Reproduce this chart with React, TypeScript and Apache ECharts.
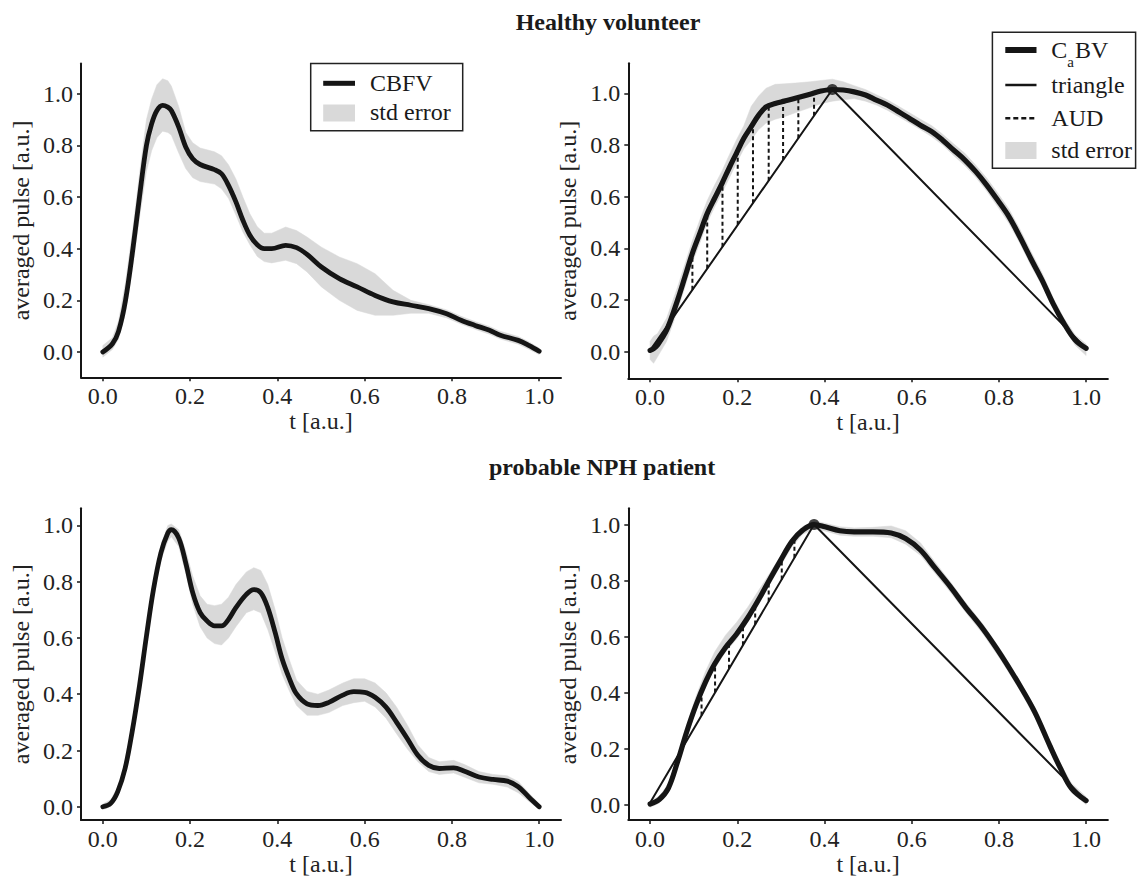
import React, { useEffect, useRef } from "react";
import * as echarts from "echarts";

// ---------- shared ticks ----------
const tickValues = [0, 0.2, 0.4, 0.6, 0.8, 1.0];

// ---------- Healthy volunteer: CBFV (top-left) ----------
const tlT = [0, 0.022, 0.036, 0.052, 0.069, 0.084, 0.1, 0.112, 0.124, 0.137, 0.149, 0.157, 0.174, 0.19, 0.206, 0.223, 0.256, 0.272, 0.288, 0.305, 0.321, 0.337, 0.354, 0.37, 0.387, 0.419, 0.444, 0.468, 0.501, 0.542, 0.583, 0.624, 0.665, 0.706, 0.747, 0.788, 0.821, 0.853, 0.886, 0.911, 0.952, 0.976, 1.0];
const tlMean = [0.0, 0.032, 0.08, 0.2, 0.4, 0.6, 0.8, 0.884, 0.935, 0.955, 0.948, 0.935, 0.871, 0.794, 0.748, 0.726, 0.706, 0.69, 0.645, 0.581, 0.51, 0.452, 0.415, 0.4, 0.4, 0.413, 0.404, 0.378, 0.329, 0.284, 0.252, 0.219, 0.194, 0.181, 0.168, 0.148, 0.123, 0.103, 0.084, 0.065, 0.045, 0.026, 0.003];
const tlLo = [-0.02, 0.01, 0.05, 0.15, 0.33, 0.52, 0.7, 0.78, 0.83, 0.855, 0.85, 0.84, 0.77, 0.71, 0.675, 0.66, 0.65, 0.632, 0.595, 0.53, 0.465, 0.415, 0.37, 0.35, 0.345, 0.355, 0.342, 0.31, 0.252, 0.2, 0.161, 0.142, 0.142, 0.15, 0.15, 0.132, 0.108, 0.088, 0.069, 0.05, 0.03, 0.011, -0.01];
const tlHi = [0.025, 0.055, 0.12, 0.27, 0.48, 0.69, 0.9, 0.98, 1.035, 1.058, 1.05, 1.03, 0.95, 0.85, 0.81, 0.79, 0.775, 0.76, 0.725, 0.67, 0.6, 0.535, 0.485, 0.46, 0.46, 0.484, 0.47, 0.445, 0.406, 0.368, 0.342, 0.303, 0.239, 0.2, 0.183, 0.163, 0.138, 0.118, 0.099, 0.08, 0.06, 0.04, 0.015];

// ---------- Healthy volunteer: CaBV (top-right) ----------
const trT = [0, 0.008, 0.017, 0.038, 0.063, 0.08, 0.097, 0.114, 0.131, 0.148, 0.165, 0.181, 0.198, 0.215, 0.232, 0.249, 0.266, 0.287, 0.308, 0.333, 0.367, 0.392, 0.418, 0.443, 0.468, 0.494, 0.519, 0.544, 0.57, 0.595, 0.62, 0.646, 0.671, 0.696, 0.722, 0.747, 0.772, 0.797, 0.823, 0.848, 0.873, 0.899, 0.924, 0.949, 0.975, 1.0];
const trMean = [0.005, 0.012, 0.026, 0.084, 0.2, 0.29, 0.381, 0.458, 0.535, 0.594, 0.652, 0.71, 0.768, 0.826, 0.871, 0.916, 0.948, 0.961, 0.97, 0.981, 0.997, 1.009, 1.015, 1.013, 1.006, 0.994, 0.974, 0.955, 0.929, 0.903, 0.877, 0.852, 0.819, 0.781, 0.742, 0.697, 0.645, 0.587, 0.523, 0.445, 0.361, 0.277, 0.187, 0.11, 0.045, 0.013];
const trLo = [-0.03, -0.045, -0.02, 0.04, 0.16, 0.25, 0.345, 0.42, 0.5, 0.56, 0.615, 0.67, 0.73, 0.785, 0.82, 0.86, 0.885, 0.9, 0.91, 0.925, 0.945, 0.96, 0.97, 0.975, 0.98, 0.97, 0.955, 0.935, 0.91, 0.885, 0.86, 0.832, 0.8, 0.76, 0.72, 0.675, 0.622, 0.562, 0.497, 0.42, 0.335, 0.255, 0.17, 0.095, 0.025, -0.015];
const trHi = [0.04, 0.06, 0.07, 0.13, 0.25, 0.34, 0.43, 0.51, 0.585, 0.645, 0.7, 0.76, 0.82, 0.875, 0.95, 0.99, 1.02, 1.035, 1.037, 1.04, 1.045, 1.05, 1.055, 1.045, 1.03, 1.015, 0.995, 0.975, 0.95, 0.925, 0.9, 0.875, 0.842, 0.805, 0.768, 0.722, 0.672, 0.615, 0.552, 0.475, 0.39, 0.305, 0.21, 0.13, 0.065, 0.03];
const trTriT = [0, 0.418, 1.0];
const trTriV = [0.005, 1.015, 0.013];
const trAudT = [0.097, 0.131, 0.166, 0.201, 0.236, 0.272, 0.305, 0.34, 0.376];
const trAudBottom = [0.24, 0.322, 0.406, 0.491, 0.575, 0.662, 0.742, 0.826, 0.913];
const trAudTop = [0.381, 0.535, 0.654, 0.776, 0.875, 0.952, 0.968, 0.983, 1.0];

// ---------- probable NPH patient: CBFV (bottom-left) ----------
const blT = [0, 0.018, 0.034, 0.051, 0.067, 0.084, 0.1, 0.116, 0.133, 0.149, 0.157, 0.174, 0.19, 0.206, 0.223, 0.239, 0.256, 0.272, 0.288, 0.305, 0.329, 0.346, 0.362, 0.378, 0.395, 0.411, 0.428, 0.444, 0.468, 0.493, 0.518, 0.55, 0.575, 0.6, 0.624, 0.649, 0.673, 0.698, 0.722, 0.747, 0.771, 0.804, 0.829, 0.862, 0.894, 0.927, 0.952, 0.976, 1.0];
const blMean = [0.0, 0.012, 0.053, 0.136, 0.265, 0.43, 0.607, 0.772, 0.902, 0.973, 0.985, 0.955, 0.867, 0.761, 0.69, 0.66, 0.643, 0.643, 0.666, 0.708, 0.755, 0.772, 0.761, 0.708, 0.619, 0.525, 0.454, 0.401, 0.366, 0.36, 0.371, 0.397, 0.409, 0.407, 0.389, 0.354, 0.301, 0.242, 0.183, 0.147, 0.136, 0.138, 0.126, 0.106, 0.097, 0.091, 0.071, 0.035, 0.0];
const blLo = [-0.01, 0.0, 0.04, 0.115, 0.24, 0.4, 0.575, 0.74, 0.875, 0.945, 0.96, 0.925, 0.83, 0.72, 0.64, 0.6, 0.58, 0.575, 0.6, 0.64, 0.69, 0.7, 0.69, 0.63, 0.55, 0.47, 0.41, 0.36, 0.325, 0.325, 0.335, 0.36, 0.37, 0.375, 0.355, 0.315, 0.26, 0.205, 0.16, 0.125, 0.115, 0.12, 0.105, 0.085, 0.08, 0.07, 0.05, 0.02, -0.01];
const blHi = [0.01, 0.025, 0.07, 0.16, 0.29, 0.46, 0.64, 0.8, 0.93, 1.0, 1.005, 0.985, 0.91, 0.82, 0.75, 0.72, 0.715, 0.72, 0.745, 0.79, 0.835, 0.85, 0.84, 0.79, 0.7, 0.6, 0.52, 0.45, 0.41, 0.4, 0.415, 0.44, 0.455, 0.455, 0.44, 0.405, 0.355, 0.29, 0.22, 0.175, 0.16, 0.165, 0.15, 0.125, 0.115, 0.11, 0.09, 0.05, 0.01];

// ---------- probable NPH patient: CaBV (bottom-right) ----------
const brT = [0, 0.021, 0.042, 0.063, 0.084, 0.105, 0.127, 0.148, 0.173, 0.198, 0.224, 0.249, 0.274, 0.3, 0.325, 0.35, 0.376, 0.401, 0.435, 0.468, 0.511, 0.553, 0.586, 0.62, 0.654, 0.688, 0.722, 0.764, 0.806, 0.848, 0.882, 0.916, 0.941, 0.966, 1.0];
const brMean = [0.002, 0.018, 0.059, 0.153, 0.26, 0.354, 0.437, 0.502, 0.561, 0.608, 0.667, 0.732, 0.803, 0.874, 0.939, 0.98, 1.0, 0.992, 0.978, 0.974, 0.974, 0.97, 0.95, 0.909, 0.844, 0.779, 0.708, 0.626, 0.531, 0.425, 0.331, 0.213, 0.13, 0.059, 0.014];
const brLo = [-0.01, 0.005, 0.045, 0.135, 0.24, 0.335, 0.42, 0.485, 0.545, 0.59, 0.65, 0.715, 0.785, 0.855, 0.92, 0.965, 0.985, 0.977, 0.962, 0.958, 0.958, 0.953, 0.93, 0.89, 0.825, 0.76, 0.69, 0.608, 0.513, 0.408, 0.313, 0.196, 0.113, 0.043, 0.0];
const brHi = [0.012, 0.03, 0.075, 0.17, 0.285, 0.385, 0.475, 0.545, 0.605, 0.65, 0.705, 0.765, 0.825, 0.89, 0.952, 0.993, 1.013, 1.005, 0.992, 0.988, 0.99, 0.995, 0.978, 0.935, 0.865, 0.797, 0.725, 0.643, 0.548, 0.442, 0.348, 0.23, 0.148, 0.077, 0.028];
const brTriT = [0, 0.376, 1.0];
const brTriV = [0.006, 1.0, 0.014];
const brAudT = [0.118, 0.149, 0.181, 0.213, 0.241, 0.272, 0.302, 0.331];
const brAudBottom = [0.318, 0.4, 0.485, 0.569, 0.643, 0.725, 0.804, 0.881];
const brAudTop = [0.41, 0.503, 0.572, 0.64, 0.71, 0.8, 0.88, 0.945];

const FONT = "'Liberation Serif', 'DejaVu Serif', serif";
const INK = "#151515";
const BAND = "#d9d9d9";

function pairs(t: number[], v: number[]) {
  return t.map((x, i) => [x, v[i]]);
}

function bandSeries(idx: number, t: number[], lo: number[], hi: number[]) {
  return {
    type: "custom",
    xAxisIndex: idx,
    yAxisIndex: idx,
    silent: true,
    z: 1,
    clip: false,
    data: [[t[0], lo[0]]],
    renderItem: (_p: any, api: any) => {
      const pts: number[][] = [];
      for (let i = 0; i < t.length; i++) pts.push(api.coord([t[i], hi[i]]));
      for (let i = t.length - 1; i >= 0; i--) pts.push(api.coord([t[i], lo[i]]));
      return { type: "polygon", shape: { points: pts }, style: { fill: BAND, stroke: BAND, lineWidth: 0.5 } };
    },
  };
}

function meanSeries(idx: number, t: number[], v: number[], width: number) {
  return {
    type: "line",
    xAxisIndex: idx,
    yAxisIndex: idx,
    data: pairs(t, v),
    symbol: "none",
    smooth: 0.35,
    z: 5,
    lineStyle: { color: INK, width, cap: "round", join: "round" },
  };
}

function triSeries(idx: number, t: number[], v: number[]) {
  return {
    type: "line",
    xAxisIndex: idx,
    yAxisIndex: idx,
    data: pairs(t, v),
    symbol: "none",
    z: 4,
    lineStyle: { color: INK, width: 2 },
  };
}

function peakSeries(idx: number, t: number, v: number) {
  return {
    type: "scatter",
    xAxisIndex: idx,
    yAxisIndex: idx,
    data: [[t, v]],
    symbol: "circle",
    symbolSize: 11,
    z: 6,
    itemStyle: { color: INK },
  };
}

function audSeries(idx: number, t: number[], b: number[], top: number[]) {
  return {
    type: "custom",
    xAxisIndex: idx,
    yAxisIndex: idx,
    silent: true,
    z: 3,
    data: t.map((x, i) => [x, b[i], top[i]]),
    encode: { x: 0, y: [1, 2] },
    renderItem: (_p: any, api: any) => {
      const p1 = api.coord([api.value(0), api.value(1)]);
      const p2 = api.coord([api.value(0), api.value(2)]);
      return {
        type: "line",
        shape: { x1: p1[0], y1: p1[1], x2: p2[0], y2: p2[1] },
        style: { stroke: INK, lineWidth: 2, lineDash: [4, 3] },
      };
    },
  };
}

function xAxis(idx: number) {
  return {
    type: "value",
    gridIndex: idx,
    min: -0.05,
    max: 1.05,
    name: "t [a.u.]",
    nameLocation: "middle",
    nameGap: 29,
    nameTextStyle: { fontFamily: FONT, fontSize: 24, color: "#222" },
    axisLine: { show: true, onZero: false, lineStyle: { color: INK, width: 2 } },
    axisTick: { show: true, length: 4, customValues: tickValues, lineStyle: { color: INK, width: 1.5 } },
    axisLabel: {
      customValues: tickValues,
      formatter: (v: number) => v.toFixed(1),
      fontFamily: FONT,
      fontSize: 24,
      color: "#222",
      margin: 7,
    },
    splitLine: { show: false },
  };
}

function yAxis(idx: number, min: number, max: number) {
  return {
    type: "value",
    gridIndex: idx,
    min,
    max,
    name: "averaged pulse [a.u.]",
    nameLocation: "middle",
    nameRotate: 90,
    nameGap: 48,
    nameTextStyle: { fontFamily: FONT, fontSize: 24, color: "#222" },
    axisLine: { show: true, onZero: false, lineStyle: { color: INK, width: 2 } },
    axisTick: { show: true, length: 4, customValues: tickValues, lineStyle: { color: INK, width: 1.5 } },
    axisLabel: {
      customValues: tickValues,
      formatter: (v: number) => v.toFixed(1),
      fontFamily: FONT,
      fontSize: 24,
      color: "#222",
      margin: 8,
    },
    splitLine: { show: false },
  };
}

function txt(x: number, y: number, text: string, size = 24, weight = "normal", align = "left") {
  return {
    type: "text",
    x,
    y,
    z: 100,
    style: {
      text,
      fill: "#1a1a1a",
      fontFamily: FONT,
      fontSize: size,
      fontWeight: weight,
      align,
      verticalAlign: "middle",
    },
  };
}

export default function App() {
  const ref = useRef<HTMLDivElement>(null);
  useEffect(() => {
    if (!ref.current) return;
    const chart = echarts.init(ref.current, null, { renderer: "svg" });
    const option: any = {
      animation: false,
      backgroundColor: "#ffffff",
      grid: [
        { left: 81, top: 63.5, width: 480, height: 313.8 },
        { left: 628.3, top: 63.3, width: 479.6, height: 315 },
        { left: 81, top: 508.3, width: 480, height: 313.4 },
        { left: 628.3, top: 508.3, width: 479.6, height: 314.4 },
      ],
      xAxis: [xAxis(0), xAxis(1), xAxis(2), xAxis(3)],
      yAxis: [
        yAxis(0, -0.098, 1.117),
        yAxis(1, -0.103, 1.1165),
        yAxis(2, -0.0474, 1.061),
        yAxis(3, -0.0556, 1.058),
      ],
      series: [
        bandSeries(0, tlT, tlLo, tlHi),
        meanSeries(0, tlT, tlMean, 4.8),
        bandSeries(1, trT, trLo, trHi),
        audSeries(1, trAudT, trAudBottom, trAudTop),
        triSeries(1, trTriT, trTriV),
        meanSeries(1, trT, trMean, 5.2),
        peakSeries(1, trTriT[1], trTriV[1]),
        bandSeries(2, blT, blLo, blHi),
        meanSeries(2, blT, blMean, 4.8),
        bandSeries(3, brT, brLo, brHi),
        audSeries(3, brAudT, brAudBottom, brAudTop),
        triSeries(3, brTriT, brTriV),
        meanSeries(3, brT, brMean, 5.2),
        peakSeries(3, brTriT[1], brTriV[1]),
      ],
      graphic: [
        txt(608, 22, "Healthy volunteer", 24, "bold", "center"),
        txt(602, 467, "probable NPH patient", 24, "bold", "center"),
        // top-left legend
        { type: "rect", z: 99, shape: { x: 310.7, y: 63.5, width: 152, height: 67.2 }, style: { fill: "#fff", stroke: "#222", lineWidth: 1.5 } },
        { type: "line", z: 100, shape: { x1: 323.2, y1: 83.3, x2: 355, y2: 83.3 }, style: { stroke: INK, lineWidth: 5 } },
        { type: "rect", z: 100, shape: { x: 323.2, y: 104.5, width: 31.8, height: 17 }, style: { fill: BAND } },
        txt(370, 83.3, "CBFV"),
        txt(370, 112, "std error"),
        // top-right legend
        { type: "rect", z: 99, shape: { x: 992.4, y: 32.3, width: 143.2, height: 136 }, style: { fill: "#fff", stroke: "#222", lineWidth: 1.5 } },
        { type: "line", z: 100, shape: { x1: 1005.3, y1: 50, x2: 1036.5, y2: 50 }, style: { stroke: INK, lineWidth: 6 } },
        { type: "line", z: 100, shape: { x1: 1005.3, y1: 85, x2: 1036.5, y2: 85 }, style: { stroke: INK, lineWidth: 2.5 } },
        { type: "line", z: 100, shape: { x1: 1005.3, y1: 118.3, x2: 1036.5, y2: 118.3 }, style: { stroke: INK, lineWidth: 2.5, lineDash: [5, 3] } },
        { type: "rect", z: 100, shape: { x: 1005.3, y: 142, width: 31.2, height: 17 }, style: { fill: BAND } },
        txt(1051.3, 50, "C"),
        txt(1067.3, 62, "a", 15),
        txt(1075, 50, "BV"),
        txt(1051.3, 85, "triangle"),
        txt(1051.3, 118.3, "AUD"),
        txt(1051.3, 150, "std error"),
      ],
    };
    chart.setOption(option);
    return () => chart.dispose();
  }, []);
  return <div ref={ref} style={{ position: "absolute", left: 0, top: 0, width: 1137, height: 877 }} />;
}
